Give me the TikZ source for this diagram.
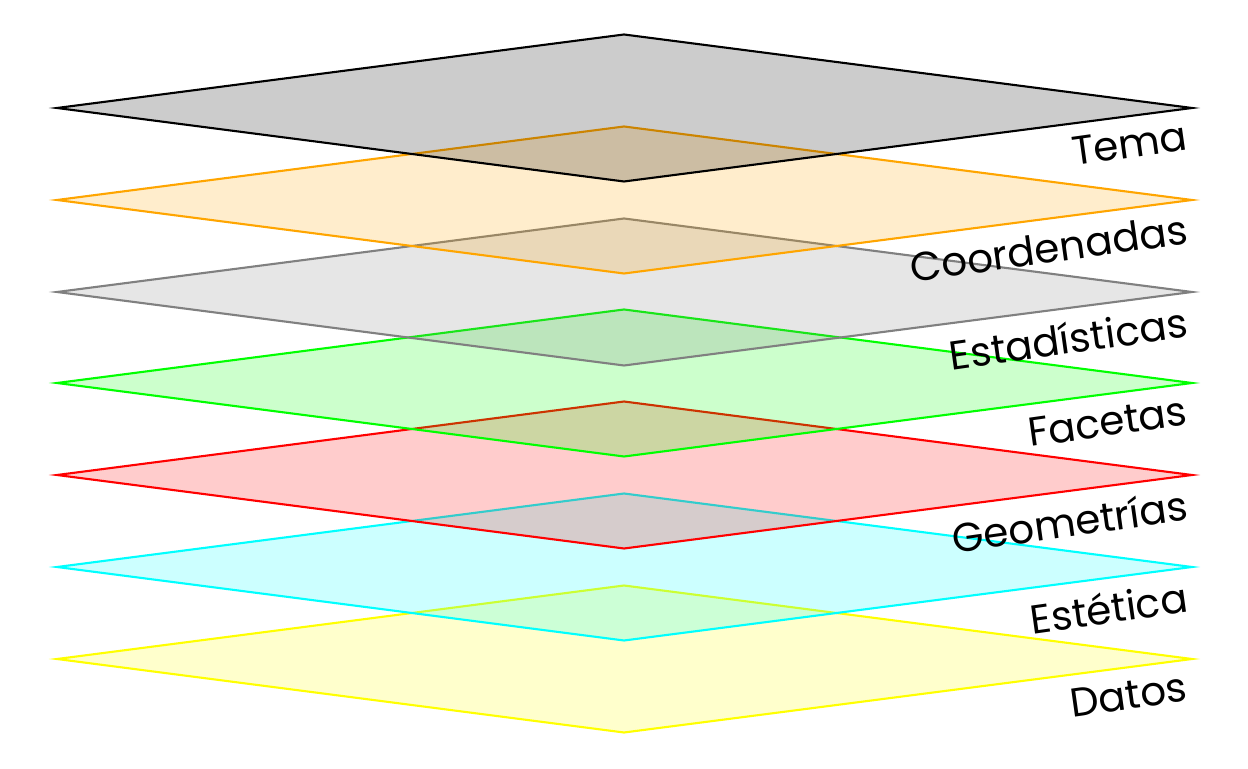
\documentclass[tikz,border=0pt]{standalone}
\usepackage{fontspec}
\setmainfont{Poppins}
\definecolor{capaorange}{HTML}{FFA500}
\definecolor{capagreen}{HTML}{00FF00}
\definecolor{capacyan}{HTML}{00FFFF}
\definecolor{capayellow}{HTML}{FFFF00}
\definecolor{capared}{HTML}{FF0000}
\definecolor{capagray}{HTML}{808080}
\begin{document}
\begin{tikzpicture}[capa/.style={semithick,fill opacity=.2},
  etiqueta/.style={anchor=north east,rotate=8,inner sep=1.5pt,font=\fontsize{11.5}{14}\selectfont}]
\useasboundingbox (0,0) rectangle (12.48,7.68);
\draw[capa,capayellow,fill=capayellow](0.57,1.09)--(6.24,1.825)--(11.92,1.09)--(6.24,0.355)--cycle;
\node[etiqueta] at (11.90,1.02){Datos};
\draw[capa,capacyan,fill=capacyan](0.57,2.01)--(6.24,2.745)--(11.92,2.01)--(6.24,1.275)--cycle;
\node[etiqueta] at (11.90,1.94){Estética};
\draw[capa,capared,fill=capared](0.57,2.93)--(6.24,3.665)--(11.92,2.93)--(6.24,2.195)--cycle;
\node[etiqueta] at (11.90,2.86){Geometrías};
\draw[capa,capagreen,fill=capagreen](0.57,3.85)--(6.24,4.585)--(11.92,3.85)--(6.24,3.115)--cycle;
\node[etiqueta] at (11.90,3.78){Facetas};
\draw[capa,capagray,fill=capagray](0.57,4.76)--(6.24,5.495)--(11.92,4.76)--(6.24,4.025)--cycle;
\node[etiqueta] at (11.90,4.69){Estadísticas};
\draw[capa,capaorange,fill=capaorange](0.57,5.68)--(6.24,6.415)--(11.92,5.68)--(6.24,4.945)--cycle;
\node[etiqueta] at (11.90,5.61){Coordenadas};
\draw[capa,black,fill=black](0.57,6.60)--(6.24,7.335)--(11.92,6.60)--(6.24,5.865)--cycle;
\node[etiqueta] at (11.90,6.53){Tema};
\end{tikzpicture}
\end{document}
